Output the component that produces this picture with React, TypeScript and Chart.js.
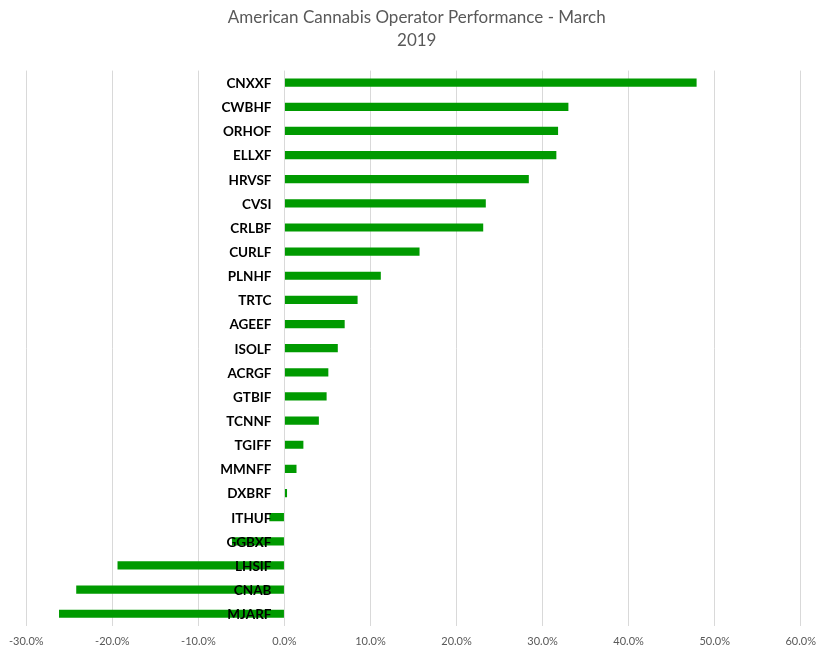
import React, { useEffect, useRef } from "react";
import { Chart, registerables } from "chart.js";

Chart.register(...registerables);

const categories = [
  "CNXXF", "CWBHF", "ORHOF", "ELLXF", "HRVSF", "CVSI", "CRLBF", "CURLF",
  "PLNHF", "TRTC", "AGEEF", "ISOLF", "ACRGF", "GTBIF", "TCNNF", "TGIFF",
  "MMNFF", "DXBRF", "ITHUF", "GGBXF", "LHSIF", "CNAB", "MJARF",
];

const performance = [
  0.479, 0.330, 0.318, 0.316, 0.284, 0.234, 0.231, 0.157,
  0.112, 0.085, 0.070, 0.062, 0.051, 0.049, 0.040, 0.022,
  0.014, 0.003, -0.0175, -0.061, -0.194, -0.242, -0.262,
];

const titleLines = ["American Cannabis Operator Performance - March", "2019"];
const xMin = -0.3;
const xMax = 0.6;
const xStep = 0.1;

const zeroLabelsPlugin = {
  id: "zeroLabels",
  afterDatasetsDraw(chart: any) {
    const { ctx } = chart;
    const xScale = chart.scales.x;
    const yScale = chart.scales.y;
    const x0 = xScale.getPixelForValue(0);
    ctx.save();
    ctx.font = "bold 13.5px Lato, 'Open Sans', sans-serif";
    ctx.fillStyle = "#000000";
    ctx.textAlign = "right";
    ctx.textBaseline = "middle";
    (chart.data.labels as string[]).forEach((lab, i) => {
      const y = yScale.getPixelForValue(i);
      ctx.fillText(lab, x0 - 13, y + 1);
    });
    ctx.restore();
  },
};

export default function App() {
  const ref = useRef<HTMLCanvasElement | null>(null);
  useEffect(() => {
    if (!ref.current) return;
    const chart = new Chart(ref.current, {
      type: "bar",
      data: {
        labels: categories,
        datasets: [
          {
            data: performance,
            backgroundColor: "#009a00",
            borderWidth: 0,
            barPercentage: 0.34,
            categoryPercentage: 1,
          },
        ],
      },
      options: {
        indexAxis: "y",
        animation: false,
        responsive: false,
        maintainAspectRatio: false,
        layout: { padding: { left: 12.5, right: 4, top: 4, bottom: 3 } },
        plugins: {
          legend: { display: false },
          tooltip: { enabled: false },
          title: {
            display: true,
            text: titleLines,
            color: "#595959",
            font: { family: "Lato, 'Open Sans', sans-serif", size: 17, weight: "normal", lineHeight: 1.37 },
            padding: { top: 1.5, bottom: 18.5 },
          },
        },
        scales: {
          x: {
            min: xMin,
            max: xMax,
            ticks: {
              stepSize: xStep,
              color: "#595959",
              font: { family: "Lato, 'Open Sans', sans-serif", size: 11 },
              callback: (v: any) => (Number(v) * 100).toFixed(1) + "%",
              padding: 9,
            },
            grid: { color: "#d9d9d9", lineWidth: 1, tickLength: 0, drawTicks: false },
            border: { display: false },
          },
          y: {
            display: false,
            grid: { display: false },
          },
        },
      },
      plugins: [zeroLabelsPlugin],
    });
    return () => chart.destroy();
  }, []);
  return (
    <div style={{ position: "fixed", left: 0, top: 0, width: 825, height: 652, overflow: "hidden", background: "#fff" }}>
      <canvas ref={ref} width={825} height={660} style={{ width: 825, height: 660 }} />
    </div>
  );
}
